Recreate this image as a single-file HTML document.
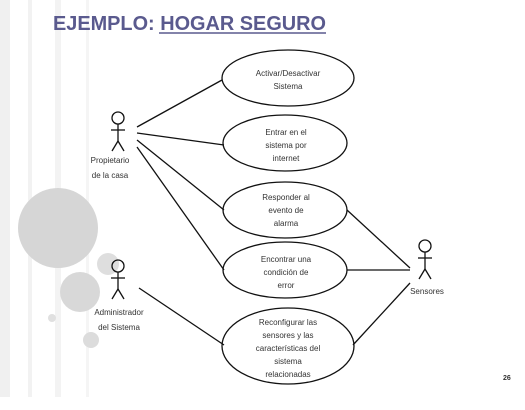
<!DOCTYPE html>
<html><head><style>
html,body{margin:0;padding:0;background:#fff}
svg{display:block}
</style></head><body>
<svg width="525" height="410" viewBox="0 0 525 410" xmlns="http://www.w3.org/2000/svg" font-family="Liberation Sans, sans-serif">
<rect width="525" height="410" fill="#fff"/>
<rect x="0" y="0" width="10" height="397" fill="#f0f0f0"/>
<rect x="28" y="0" width="4" height="397" fill="#f2f2f2"/>
<rect x="55" y="0" width="6" height="397" fill="#f3f3f3"/>
<rect x="86" y="0" width="3" height="397" fill="#f5f5f5"/>
<circle cx="58" cy="228" r="40" fill="#d6d6d6"/>
<circle cx="108" cy="264" r="11" fill="#dedede"/>
<circle cx="80" cy="292" r="20" fill="#d8d8d8"/>
<circle cx="52" cy="318" r="4" fill="#e0e0e0"/>
<circle cx="91" cy="340" r="8" fill="#dcdcdc"/>
<text x="53" y="30" font-size="20" font-weight="bold" fill="#5a5a8e" textLength="273" lengthAdjust="spacingAndGlyphs">EJEMPLO: HOGAR SEGURO</text>
<line x1="159" y1="33" x2="326" y2="33" stroke="#5a5a8e" stroke-width="1.5"/>
<g fill="none" stroke="#111" stroke-width="1.3">
<ellipse cx="288" cy="78" rx="66" ry="28"/>
<ellipse cx="285" cy="143" rx="62" ry="28"/>
<ellipse cx="285" cy="210" rx="62" ry="28"/>
<ellipse cx="285" cy="270" rx="62" ry="28"/>
<ellipse cx="288" cy="346" rx="66" ry="38"/>
<line x1="137" y1="127" x2="222" y2="80"/>
<line x1="137" y1="133" x2="224" y2="145"/>
<line x1="137" y1="140" x2="224" y2="210"/>
<line x1="137" y1="147" x2="224" y2="270"/>
<line x1="139" y1="288" x2="224" y2="345"/>
<line x1="347" y1="210" x2="410" y2="268"/>
<line x1="347" y1="270" x2="410" y2="270"/>
<line x1="353" y1="345" x2="410" y2="283"/>
<circle cx="118" cy="118" r="6"/><line x1="118" y1="124" x2="118" y2="141"/><line x1="111" y1="130" x2="125" y2="130"/><line x1="118" y1="141" x2="112" y2="151"/><line x1="118" y1="141" x2="124" y2="151"/>
<circle cx="118" cy="266" r="6"/><line x1="118" y1="272" x2="118" y2="289"/><line x1="111" y1="278" x2="125" y2="278"/><line x1="118" y1="289" x2="112" y2="299"/><line x1="118" y1="289" x2="124" y2="299"/>
<circle cx="425" cy="246" r="6"/><line x1="425" y1="252" x2="425" y2="269"/><line x1="418" y1="258" x2="432" y2="258"/><line x1="425" y1="269" x2="419" y2="279"/><line x1="425" y1="269" x2="431" y2="279"/>
</g>
<g font-size="8" fill="#333" text-anchor="middle">
<text x="288" y="76">Activar/Desactivar</text><text x="288" y="89">Sistema</text>
<text x="286" y="135">Entrar en el</text><text x="286" y="148">sistema por</text><text x="286" y="161">internet</text>
<text x="286" y="200">Responder al</text><text x="286" y="213">evento de</text><text x="286" y="226">alarma</text>
<text x="286" y="262">Encontrar una</text><text x="286" y="275">condición de</text><text x="286" y="288">error</text>
<text x="288" y="325">Reconfigurar las</text><text x="288" y="338">sensores y las</text><text x="288" y="351">características del</text><text x="288" y="364">sistema</text><text x="288" y="377">relacionadas</text>
<text x="110" y="163">Propietario</text><text x="110" y="178">de la casa</text>
<text x="119" y="315">Administrador</text><text x="119" y="330">del Sistema</text>
<text x="427" y="294">Sensores</text>
</g>
<text x="503" y="380" font-size="7" font-weight="bold" fill="#333">26</text>
</svg>
</body></html>
